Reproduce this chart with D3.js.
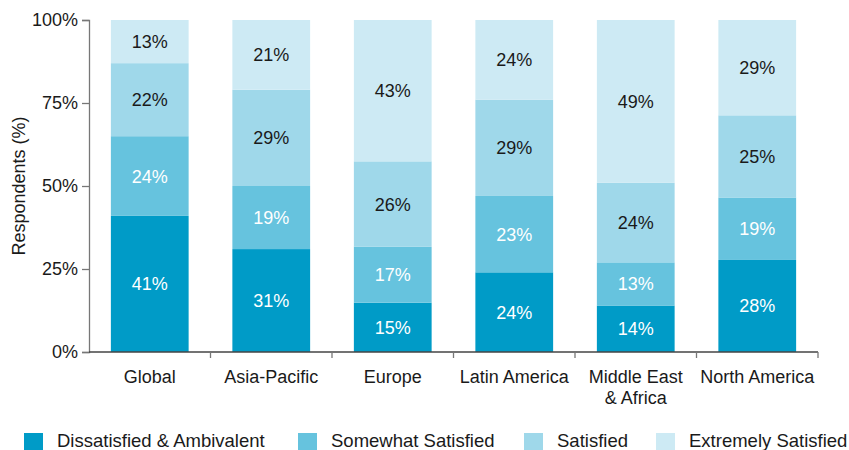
<!DOCTYPE html>
<html>
<head>
<meta charset="utf-8">
<script src="https://cdn.jsdelivr.net/npm/d3@7"></script>
<style>
body { margin: 0; background: #fff; }
text { font-family: "Liberation Sans", Arial, sans-serif; }
</style>
</head>
<body>
<script>
var width = 849;
var height = 450;

var regions = ["Global", "Asia-Pacific", "Europe", "Latin America", "Middle East\n& Africa", "North America"];
var seriesNames = ["Dissatisfied & Ambivalent", "Somewhat Satisfied", "Satisfied", "Extremely Satisfied"];
var dissatisfied = [41, 31, 15, 24, 14, 28];
var somewhat = [24, 19, 17, 23, 13, 19];
var satisfied = [22, 29, 26, 29, 24, 25];
var extremely = [13, 21, 43, 24, 49, 29];
var yTicks = [0, 0.25, 0.5, 0.75, 1];
var colors = ["#009bc7", "#66c3de", "#9fd8ea", "#cdeaf4"];
var labelColors = ["#fff", "#fff", "#1a1a1a", "#1a1a1a"];

var rows = regions.map(function(r, i) {
    return {region: r, s0: dissatisfied[i], s1: somewhat[i], s2: satisfied[i], s3: extremely[i]};
});

var margin = {top: 20, right: 31, bottom: 98, left: 89};
var fontSize = "18px";

var svg = d3.select("body")
            .append("svg")
            .attr("width", width)
            .attr("height", height);

var x = d3.scaleBand()
            .domain(regions)
            .range([margin.left, width - margin.right])
            .paddingInner(0.36)
            .paddingOuter(0.18);
var y = d3.scaleLinear()
            .domain([0, 1])
            .range([height - margin.bottom, margin.top]);
var color = d3.scaleOrdinal().domain(["s0", "s1", "s2", "s3"]).range(colors);

var stack = d3.stack()
            .keys(["s0", "s1", "s2", "s3"])
            .offset(d3.stackOffsetExpand);
var stacked = stack(rows);

var groups = svg.selectAll("g.series")
            .data(stacked)
            .enter()
            .append("g")
            .attr("class", "series")
            .attr("fill", function(d) { return color(d.key); });

groups.selectAll("rect")
    .data(function(d) { return d; })
    .enter()
    .append("rect")
    .attr("x", function(d) { return x(d.data.region); })
    .attr("y", function(d) { return y(d[1]); })
    .attr("width", x.bandwidth())
    .attr("height", function(d) { return y(d[0]) - y(d[1]); });

groups.selectAll("text")
    .data(function(d, si) { return d.map(function(p) { p.si = si; p.key = d.key; return p; }); })
    .enter()
    .append("text")
    .attr("x", function(d) { return x(d.data.region) + x.bandwidth() / 2; })
    .attr("y", function(d) { return (y(d[0]) + y(d[1])) / 2; })
    .attr("dy", "0.36em")
    .attr("text-anchor", "middle")
    .style("font-size", fontSize)
    .style("fill", function(d) { return labelColors[d.si]; })
    .text(function(d) { return d.data[d.key] + "%"; });

// y axis
var yAxis = d3.axisLeft(y)
            .tickValues(yTicks)
            .tickFormat(function(d) { return Math.round(d * 100) + "%"; })
            .tickSize(7)
            .tickPadding(4);
var gy = svg.append("g")
            .attr("transform", "translate(" + margin.left + ",0)")
            .call(yAxis);
gy.select(".domain").attr("stroke", "#777").attr("stroke-width", 1.3);
gy.selectAll(".tick line").attr("stroke", "#777").attr("stroke-width", 1.3);
gy.selectAll(".tick text").style("font-size", fontSize).style("fill", "#1a1a1a").style("font-family", "Liberation Sans, Arial, sans-serif");

// x axis with ticks at category boundaries
var step = x.step();
var boundaries = d3.range(regions.length + 1).map(function(i) { return margin.left + i * step; });
svg.append("line")
    .attr("x1", margin.left)
    .attr("x2", boundaries[boundaries.length - 1])
    .attr("y1", y(0))
    .attr("y2", y(0))
    .attr("stroke", "#444")
    .attr("stroke-width", 1.3);
svg.selectAll("line.xtick")
    .data(boundaries.slice(1))
    .enter()
    .append("line")
    .attr("class", "xtick")
    .attr("x1", function(d) { return d; })
    .attr("x2", function(d) { return d; })
    .attr("y1", y(0))
    .attr("y2", y(0) + 6)
    .attr("stroke", "#777")
    .attr("stroke-width", 1.3);

var xLabels = svg.selectAll("text.xlabel")
    .data(regions)
    .enter()
    .append("text")
    .attr("class", "xlabel")
    .attr("text-anchor", "middle")
    .attr("y", y(0) + 31)
    .style("font-size", fontSize)
    .style("fill", "#1a1a1a");
xLabels.each(function(d) {
    var t = d3.select(this);
    d.split("\n").forEach(function(line, i) {
        t.append("tspan")
            .attr("x", x(d) + x.bandwidth() / 2)
            .attr("dy", i === 0 ? 0 : "1.17em")
            .text(line);
    });
});

svg.append("text")
    .attr("transform", "translate(25," + ((y(0) + y(1)) / 2) + ") rotate(-90)")
    .attr("text-anchor", "middle")
    .style("font-size", fontSize)
    .style("fill", "#1a1a1a")
    .text("Respondents (%)");

// legend
var legendX = [24, 298, 524, 656];
var legend = svg.selectAll("g.legend")
                .data(seriesNames)
                .enter()
                .append("g")
                .attr("class", "legend")
                .attr("transform", function(d, i) { return "translate(" + legendX[i] + ",433)"; });
legend.append("rect")
    .attr("width", 19)
    .attr("height", 19)
    .style("fill", function(d, i) { return colors[i]; });
legend.append("text")
    .attr("x", 33)
    .attr("y", 14)
    .style("font-size", "18.5px")
    .style("fill", "#1a1a1a")
    .text(function(d) { return d; });
</script>
</body>
</html>
